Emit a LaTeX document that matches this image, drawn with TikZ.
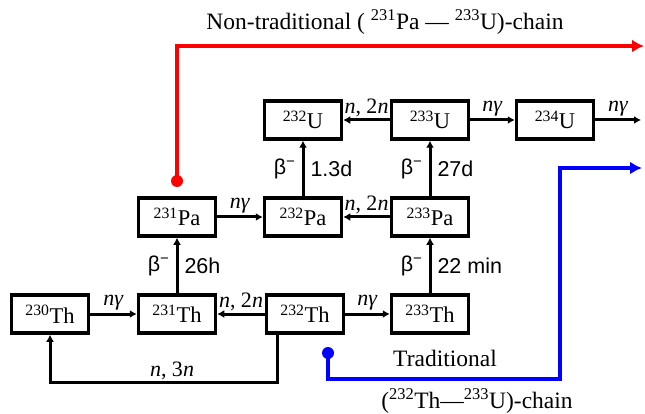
\documentclass[tikz,border=0pt]{standalone}
\usepackage{fontspec}
\setmainfont{Liberation Serif}
\newfontfamily\decayfont{Liberation Sans}
\usetikzlibrary{positioning,arrows.meta}

\begin{document}
\begin{tikzpicture}[x=1pt,y=-1pt,
  nuc/.style={draw,line width=3.5pt,minimum width=77pt,minimum height=38pt,inner sep=0pt,font={\fontsize{22.5}{26}\selectfont}},
  flow/.style={line width=3pt,-{Latex[length=7pt,width=8pt]}},
  rx/.style={font={\fontsize{22}{24}\selectfont},inner sep=2pt},
  decay/.style={font={\decayfont\fontsize{21.5}{24}\selectfont},inner sep=6pt},
  chain/.style={line width=4pt,-{Latex[length=12pt,width=13pt]}},
  pin/.style={circle,inner sep=0pt,minimum size=12pt},
  caption/.style={font={\fontsize{23.5}{27}\selectfont}}]
  \useasboundingbox (0,0) rectangle (645,414);

  % Thorium row
  \node[nuc] (th230) at (50,314) {\textsuperscript{230}Th};
  \node[nuc] (th231) at (177,314) {\textsuperscript{231}Th};
  \node[nuc] (th232) at (305,314) {\textsuperscript{232}Th};
  \node[nuc] (th233) at (430,314) {\textsuperscript{233}Th};

  % Protactinium row
  \node[nuc] (pa231) at (177,217) {\textsuperscript{231}Pa};
  \node[nuc] (pa232) at (303,217) {\textsuperscript{232}Pa};
  \node[nuc] (pa233) at (430,217) {\textsuperscript{233}Pa};

  % Uranium row
  \node[nuc] (u232) at (303,120) {\textsuperscript{232}U};
  \node[nuc] (u233) at (430,120) {\textsuperscript{233}U};
  \node[nuc] (u234) at (555,120) {\textsuperscript{234}U};
  \coordinate (uout) at (641,120);

  % Neutron reactions
  \draw[flow] (th230) -- (th231) node[midway,above,rx] {\textit{nγ}};
  \draw[flow] (th232) -- (th231) node[midway,above,rx] {\textit{n}, 2\textit{n}};
  \draw[flow] (th232) -- (th233) node[midway,above,rx] {\textit{nγ}};
  \draw[flow] (pa231) -- (pa232) node[midway,above,rx] {\textit{nγ}};
  \draw[flow] (pa233) -- (pa232) node[midway,above,rx] {\textit{n}, 2\textit{n}};
  \draw[flow] (u233) -- (u232) node[midway,above,rx] {\textit{n}, 2\textit{n}};
  \draw[flow] (u233) -- (u234) node[midway,above,rx] {\textit{nγ}};
  \draw[flow] (u234) -- (uout) node[midway,above,rx] {\textit{nγ}};

  % n,3n loop back to 230Th
  \coordinate (low) at (172,382);
  \draw[flow] ([xshift=-28pt]th232.south) |- (low) -| (th230.south);
  \node[rx,above] (l3n) at (low) {\textit{n}, 3\textit{n}};

  % Beta decays
  \draw[flow] (th231) -- (pa231) node[midway,left,decay] {β\textsuperscript{−}} node[midway,right,decay] {26h};
  \draw[flow] (pa232) -- (u232) node[midway,left,decay] {β\textsuperscript{−}} node[midway,right,decay] {1.3d};
  \draw[flow] (th233) -- (pa233) node[midway,left,decay] {β\textsuperscript{−}} node[midway,right,decay] {22 min};
  \draw[flow] (pa233) -- (u233) node[midway,left,decay] {β\textsuperscript{−}} node[midway,right,decay] {27d};

  % Non-traditional chain
  \node[pin,fill=red] (rdot) at (177,181) {};
  \coordinate (rend) at (644,46);
  \draw[chain,red] (rdot.center) |- (rend);
  \node[caption] (rtitle) at (385,22) {Non-traditional ( \textsuperscript{231}Pa — \textsuperscript{233}U)-chain};

  % Traditional chain
  \node[pin,fill=blue] (bdot) at (328,353) {};
  \coordinate (bturn) at (560,379);
  \coordinate (bend) at (642,168);
  \draw[chain,blue] (bdot.center) |- (bturn) |- (bend);
  \node[caption] (btitle) at (445,358) {Traditional};
  \node[caption] (bchain) at (477,401) {(\textsuperscript{232}Th—\textsuperscript{233}U)-chain};
\end{tikzpicture}
\end{document}
